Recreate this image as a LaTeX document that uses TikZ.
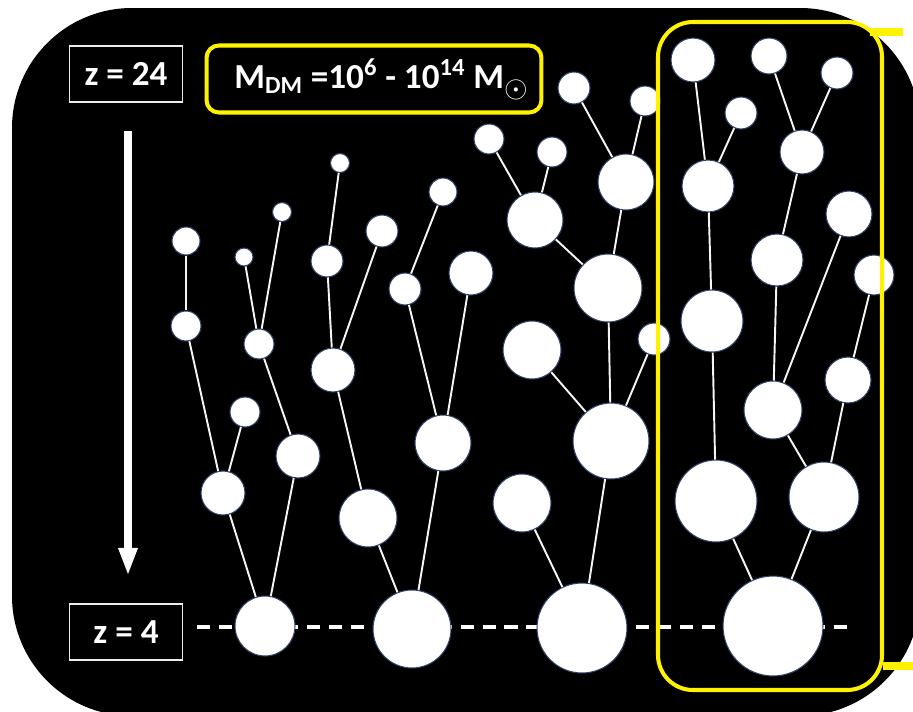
\documentclass[tikz,border=0pt]{standalone}
\usepackage{fontspec}
\setmainfont{Carlito}
\usetikzlibrary{arrows.meta}
\definecolor{haloedge}{RGB}{45,65,105}

\begin{document}
\begin{tikzpicture}[
    x=0.02cm, y=-0.02cm,
    >={Triangle[width=10pt,length=16pt]},
    halo/.style={circle, fill=white, draw=haloedge, line width=0.6pt, inner sep=0pt, minimum size=#1*0.04cm},
    branch/.style={draw=white!92!gray, line width=1.1pt},
    zbox/.style={draw=white!85!gray, line width=0.9pt, text=white, minimum width=2.26cm, minimum height=1.12cm, inner sep=0pt},
    massbox/.style={draw=yellow, line width=2.3pt, rounded corners=7pt, text=white, minimum width=6.7cm, minimum height=1.34cm},
    font=\fontsize{20}{22}\selectfont\bfseries
  ]
    \useasboundingbox (0,0) rectangle (913,711);
    \clip (0,0) rectangle (913,711);
    \fill[black, rounded corners=2.4cm] (12,8) rectangle (920,716);

    \node[zbox] (z24) at (126,74) {z = 24};
    \node[zbox] (z4) at (126,632) {z = 4};
    \node[massbox] (mass) at (374,79) {\hspace{8pt}M\textsubscript{DM} =10\textsuperscript{6} - 10\textsuperscript{14} M\raisebox{-5pt}{\fontsize{17}{17}\selectfont$\odot$}};

    \coordinate (tstart) at (128,131);
    \coordinate (tend) at (128,576);
    \draw[->, white, line width=5pt] (tstart) -- (tend);

    \coordinate (dashL) at (197,627);
    \coordinate (dashR) at (851,627);
    \draw[white, line width=2.1pt, dash pattern=on 7.5pt off 5pt] (dashL) -- (dashR);

    % tree 1
    \node[halo=14] (p1) at (186,241) {};
    \node[halo=15] (p2) at (186,326) {};
    \node[halo=9] (p3) at (244,257) {};
    \node[halo=9.5] (p4) at (282,212) {};
    \node[halo=15] (p5) at (259,344) {};
    \node[halo=15] (p6) at (245,412) {};
    \node[halo=22] (p7) at (223,493) {};
    \node[halo=22] (p8) at (298,456) {};
    \node[halo=30] (r1) at (265,626) {};
    \draw[branch] (p1) -- (p2);
    \draw[branch] (p2) -- (p7);
    \draw[branch] (p6) -- (p7);
    \draw[branch] (p7) -- (r1);
    \draw[branch] (p3) -- (p5);
    \draw[branch] (p4) -- (p5);
    \draw[branch] (p5) -- (p8);
    \draw[branch] (p8) -- (r1);

    % tree 2
    \node[halo=9.5] (q1) at (340,163) {};
    \node[halo=16] (q2) at (327,261) {};
    \node[halo=16] (q3) at (382,231) {};
    \node[halo=22] (q4) at (333,370) {};
    \node[halo=29] (q5) at (368,518) {};
    \node[halo=14] (q6) at (443,192) {};
    \node[halo=16] (q7) at (405,289) {};
    \node[halo=22] (q8) at (471,273) {};
    \node[halo=28] (q9) at (443,443) {};
    \node[halo=39] (r2) at (412,629) {};
    \draw[branch] (q1) -- (q2);
    \draw[branch] (q2) -- (q4);
    \draw[branch] (q3) -- (q4);
    \draw[branch] (q4) -- (q5);
    \draw[branch] (q5) -- (r2);
    \draw[branch] (q6) -- (q7);
    \draw[branch] (q7) -- (q9);
    \draw[branch] (q8) -- (q9);
    \draw[branch] (q9) -- (r2);

    % tree 3
    \node[halo=15] (s1) at (489,139) {};
    \node[halo=15] (s2) at (552,152) {};
    \node[halo=28] (s3) at (535,220) {};
    \node[halo=16] (s4) at (574,88) {};
    \node[halo=15] (s5) at (645,101) {};
    \node[halo=28] (s6) at (626,182) {};
    \node[halo=34] (s7) at (608,288) {};
    \node[halo=29] (s8) at (532,350) {};
    \node[halo=16] (s9) at (654,339) {};
    \node[halo=38] (s10) at (611,441) {};
    \node[halo=29] (s11) at (522,503) {};
    \node[halo=45] (r3) at (582,628) {};
    \draw[branch] (s1) -- (s3);
    \draw[branch] (s2) -- (s3);
    \draw[branch] (s3) -- (s7);
    \draw[branch] (s4) -- (s6);
    \draw[branch] (s5) -- (s6);
    \draw[branch] (s6) -- (s7);
    \draw[branch] (s7) -- (s10);
    \draw[branch] (s8) -- (s10);
    \draw[branch] (s9) -- (s10);
    \draw[branch] (s10) -- (r3);
    \draw[branch] (s11) -- (r3);

    % tree 4
    \node[halo=22] (u1) at (693,60) {};
    \node[halo=16] (u2) at (741,113) {};
    \node[halo=18] (u3) at (769,56) {};
    \node[halo=16] (u4) at (837,73) {};
    \node[halo=26] (u5) at (708,186) {};
    \node[halo=22] (u6) at (802,152) {};
    \node[halo=23] (u7) at (849,214) {};
    \node[halo=26] (u8) at (777,260) {};
    \node[halo=20] (u9) at (874,275) {};
    \node[halo=31] (u10) at (712,321) {};
    \node[halo=23] (u11) at (848,380) {};
    \node[halo=29] (u12) at (773,410) {};
    \node[halo=41] (u13) at (716,501) {};
    \node[halo=35] (u14) at (824,497) {};
    \node[halo=50] (r4) at (773,626) {};
    \draw[branch] (u1) -- (u5);
    \draw[branch] (u2) -- (u5);
    \draw[branch] (u3) -- (u6);
    \draw[branch] (u4) -- (u6);
    \draw[branch] (u6) -- (u8);
    \draw[branch] (u5) -- (u10);
    \draw[branch] (u10) -- (u13);
    \draw[branch] (u8) -- (u12);
    \draw[branch] (u7) -- (u12);
    \draw[branch] (u9) -- (u11);
    \draw[branch] (u11) -- (u14);
    \draw[branch] (u12) -- (u14);
    \draw[branch] (u13) -- (r4);
    \draw[branch] (u14) -- (r4);

    \draw[yellow, line width=2.3pt, rounded corners=0.7cm] (658,22) rectangle (882,690);
    \draw[yellow, line width=4pt] (870,32) -- (903,32);
    \draw[yellow, line width=4pt] (883,666) -- (913,666);
  \end{tikzpicture}
\end{document}
